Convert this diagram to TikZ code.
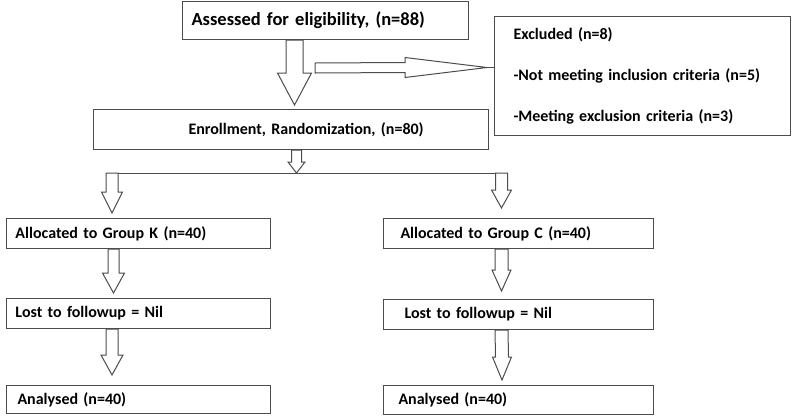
\documentclass[tikz,border=0pt]{standalone}
\usepackage{fontspec}
\setmainfont{Carlito}
\usetikzlibrary{calc}

\tikzset{
  flowbox/.style={draw=black!70, line width=1pt, anchor=north west, align=left,
    inner ysep=0pt, font=\fontsize{16}{19}\selectfont\bfseries},
  blockarrow/.style={draw=black!70, line width=1pt, fill=white, line join=miter},
}

% hollow block arrow pointing down: from, tip, shaft half width, head half width, head length
\newcommand{\blockdown}[5]{%
  \draw[blockarrow] ($(#1)+(-#3,0)$) -- ($(#2)+(-#3,-#5)$) -- ($(#2)+(-#4,-#5)$) -- (#2)
    -- ($(#2)+(#4,-#5)$) -- ($(#2)+(#3,-#5)$) -- ($(#1)+(#3,0)$) -- cycle;}

\begin{document}
\begin{tikzpicture}[x=1pt,y=-1pt]
                \useasboundingbox (0,0) rectangle (792,416);
                % boxes
                \node[flowbox, text width=268, minimum height=38, inner xsep=9,
                  font=\fontsize{18.5}{21}\selectfont\bfseries] (assess) at (182,1) {Assessed for eligibility, (n=88)};
                \node[flowbox, text width=258, minimum height=119, inner xsep=19,
                  font=\fontsize{16}{41}\selectfont\bfseries] (excl) at (494,16)
                  {Excluded (n=8)\\-Not meeting inclusion criteria (n=5)\\-Meeting exclusion criteria (n=3)};
                \node[flowbox, text width=377, minimum height=40, inner xsep=9] (enrol) at (93,109) {\hspace*{86pt}Enrollment, Randomization, (n=80)};
                \node[flowbox, text width=246, minimum height=30, inner xsep=9] (allocK) at (6,218) {Allocated to Group K (n=40)};
                \node[flowbox, text width=236, minimum height=30, inner xsep=17] (allocC) at (383,218) {Allocated to Group C (n=40)};
                \node[flowbox, text width=246, minimum height=30, inner xsep=9] (lostK) at (6,298) {Lost to followup = Nil};
                \node[flowbox, text width=228, minimum height=30, inner xsep=21] (lostC) at (383,299) {Lost to followup = Nil};
                \node[flowbox, text width=242, minimum height=28, inner xsep=11] (anK) at (6,385) {Analysed (n=40)};
                \node[flowbox, text width=240, minimum height=29, inner xsep=15] (anC) at (383,385) {Analysed (n=40)};
                % assessed -> enrolment
                \coordinate (a1) at ($(assess.south west)+(112.5,0)$);
                \coordinate (a1t) at ($(enrol.north west)+(201.5,-4)$);
                \blockdown{a1}{a1t}{8.5}{17}{32}
                % assessed -> excluded
                \coordinate (x1) at ($(assess.south west)+(133,28)$);
                \coordinate (x1t) at ($(excl.west)+(-7,-8.5)$);
                \draw[blockarrow] ($(x1)+(0,-5)$) -- ($(x1t)+(-82,-5)$) -- ($(x1t)+(-82,-10)$) -- (x1t)
                  -- ($(x1t)+(-82,10)$) -- ($(x1t)+(-82,5)$) -- ($(x1)+(0,5)$) -- cycle;
                \draw[blockarrow] (x1t) -- (x1t -| excl.west);
                % enrolment -> fork
                \coordinate (e1) at ($(enrol.south west)+(203.5,0)$);
                \coordinate (fork) at ($(e1)+(0,23)$);
                \coordinate (bK) at ($(fork)+(-184.5,0)$);
                \coordinate (bC) at ($(fork)+(205,0)$);
                \draw[blockarrow] ($(bK)+(6,0)$) -- ($(bC)+(-6,0)$);
                \blockdown{e1}{fork}{5}{8.5}{11}
                % fork -> groups
                \coordinate (bKt) at ($(allocK.north west)+(106,-5)$);
                \coordinate (bCt) at ($(allocC.north west)+(118.5,-10)$);
                \blockdown{bK}{bKt}{6}{10.5}{21}
                \blockdown{bC}{bCt}{6}{10}{18}
                % group K
                \coordinate (k1) at ($(allocK.south west)+(107.5,0)$);
                \coordinate (k1t) at ($(lostK.north west)+(107.5,-5)$);
                \blockdown{k1}{k1t}{5.5}{11}{20}
                \coordinate (k2) at ($(lostK.south west)+(106,0)$);
                \coordinate (k2t) at ($(anK.north west)+(106,-10)$);
                \blockdown{k2}{k2t}{6}{11}{20}
                % group C
                \coordinate (c1) at ($(allocC.south west)+(118.5,0)$);
                \coordinate (c1t) at ($(lostC.north west)+(118.5,-8)$);
                \blockdown{c1}{c1t}{6.5}{9.5}{21}
                \coordinate (c2) at ($(lostC.south west)+(118.5,0)$);
                \coordinate (c2t) at ($(anC.north west)+(119,-5)$);
                \blockdown{c2}{c2t}{6.5}{9.5}{23}
\end{tikzpicture}
\end{document}
